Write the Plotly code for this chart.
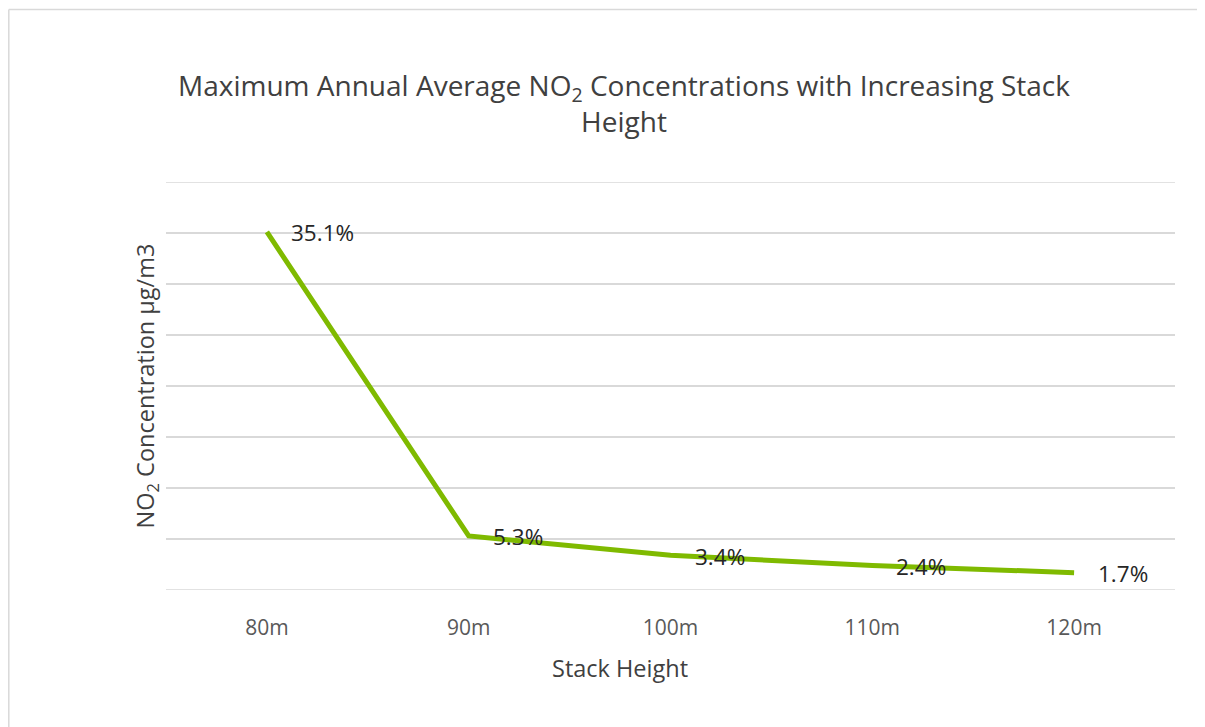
import plotly.graph_objects as go

categories = ["80m", "90m", "100m", "110m", "120m"]
values = [35.1, 5.3, 3.4, 2.4, 1.7]
labels = ["35.1%", "5.3%", "3.4%", "2.4%", "1.7%"]

OFF = 8  # default page body margin
W, H = 1205 - OFF, 727 - OFF
# plot area in reference page coordinates: x 166..1175, y 182..590
ML = 166 - OFF
MT = 182 - OFF
MR = W - (1175 - OFF)
MB = H - (590 - OFF)

fig = go.Figure()
fig.add_trace(go.Scatter(
    x=categories, y=values, mode="lines",
    line=dict(color="#7FBA00", width=5), hoverinfo="skip", showlegend=False,
))

for c, v, t in zip(categories, values, labels):
    fig.add_annotation(x=c, y=v, text=t, showarrow=False, xanchor="left",
                       yanchor="middle", xshift=22, yshift=-1,
                       font=dict(family="Open Sans", size=22.5, color="#262626"))

pw = W - ML - MR
ph = H - MT - MB
def px(x):
    return (x - OFF - ML) / pw
def py(y):
    return (H - MB - (y - OFF)) / ph

# outer chart-area border (top and left edges visible)
fig.add_shape(type="line", xref="paper", yref="paper",
              x0=px(OFF + 0.8), x1=px(1205 + OFF), y0=py(OFF + 1.5), y1=py(OFF + 1.5),
              line=dict(color="#D9D9D9", width=1.5))
fig.add_shape(type="line", xref="paper", yref="paper",
              x0=px(OFF + 0.8), x1=px(OFF + 0.8), y0=py(OFF + 1.5), y1=py(727 + OFF),
              line=dict(color="#D9D9D9", width=1.5))

# x-axis title (offset left of plot centre, as in the reference)
fig.add_annotation(xref="paper", yref="paper", x=px(620), y=py(668),
                   xanchor="center", yanchor="middle", showarrow=False,
                   text="Stack Height",
                   font=dict(family="Open Sans", size=23.5, color="#404040"))

fig.update_layout(
    width=W, height=H,
    margin=dict(l=ML, r=MR, t=MT, b=MB),
    paper_bgcolor="white", plot_bgcolor="white",
    title=dict(
        text="Maximum Annual Average NO<sub>2</sub> Concentrations with Increasing Stack<br>Height",
        x=(624 - OFF) / W, xanchor="center", y=1 - (96 - OFF) / H, yanchor="middle",
        font=dict(family="Open Sans", size=28, color="#404040"),
    ),
    xaxis=dict(
        type="category", range=[-0.5, 4.5], showgrid=False, zeroline=False,
        showline=False, ticks="", ticklabelstandoff=23,
        tickfont=dict(family="Open Sans", size=21, color="#595959"),
    ),
    yaxis=dict(
        range=[0, 40], dtick=5, showticklabels=False, showgrid=True,
        gridcolor="#D9D9D9", gridwidth=1.5, zeroline=False, showline=False,
        title=dict(text="NO<sub>2</sub> Concentration µg/m3", standoff=3,
                   font=dict(family="Open Sans", size=23.5, color="#404040")),
    ),
)
# edge gridlines (y=0 and y=40)
for yv in (0, 40):
    fig.add_shape(type="line", xref="paper", yref="y", x0=0, x1=1, y0=yv, y1=yv,
                  line=dict(color="#D9D9D9", width=1.5), layer="below")

fig.write_html("out.html")
